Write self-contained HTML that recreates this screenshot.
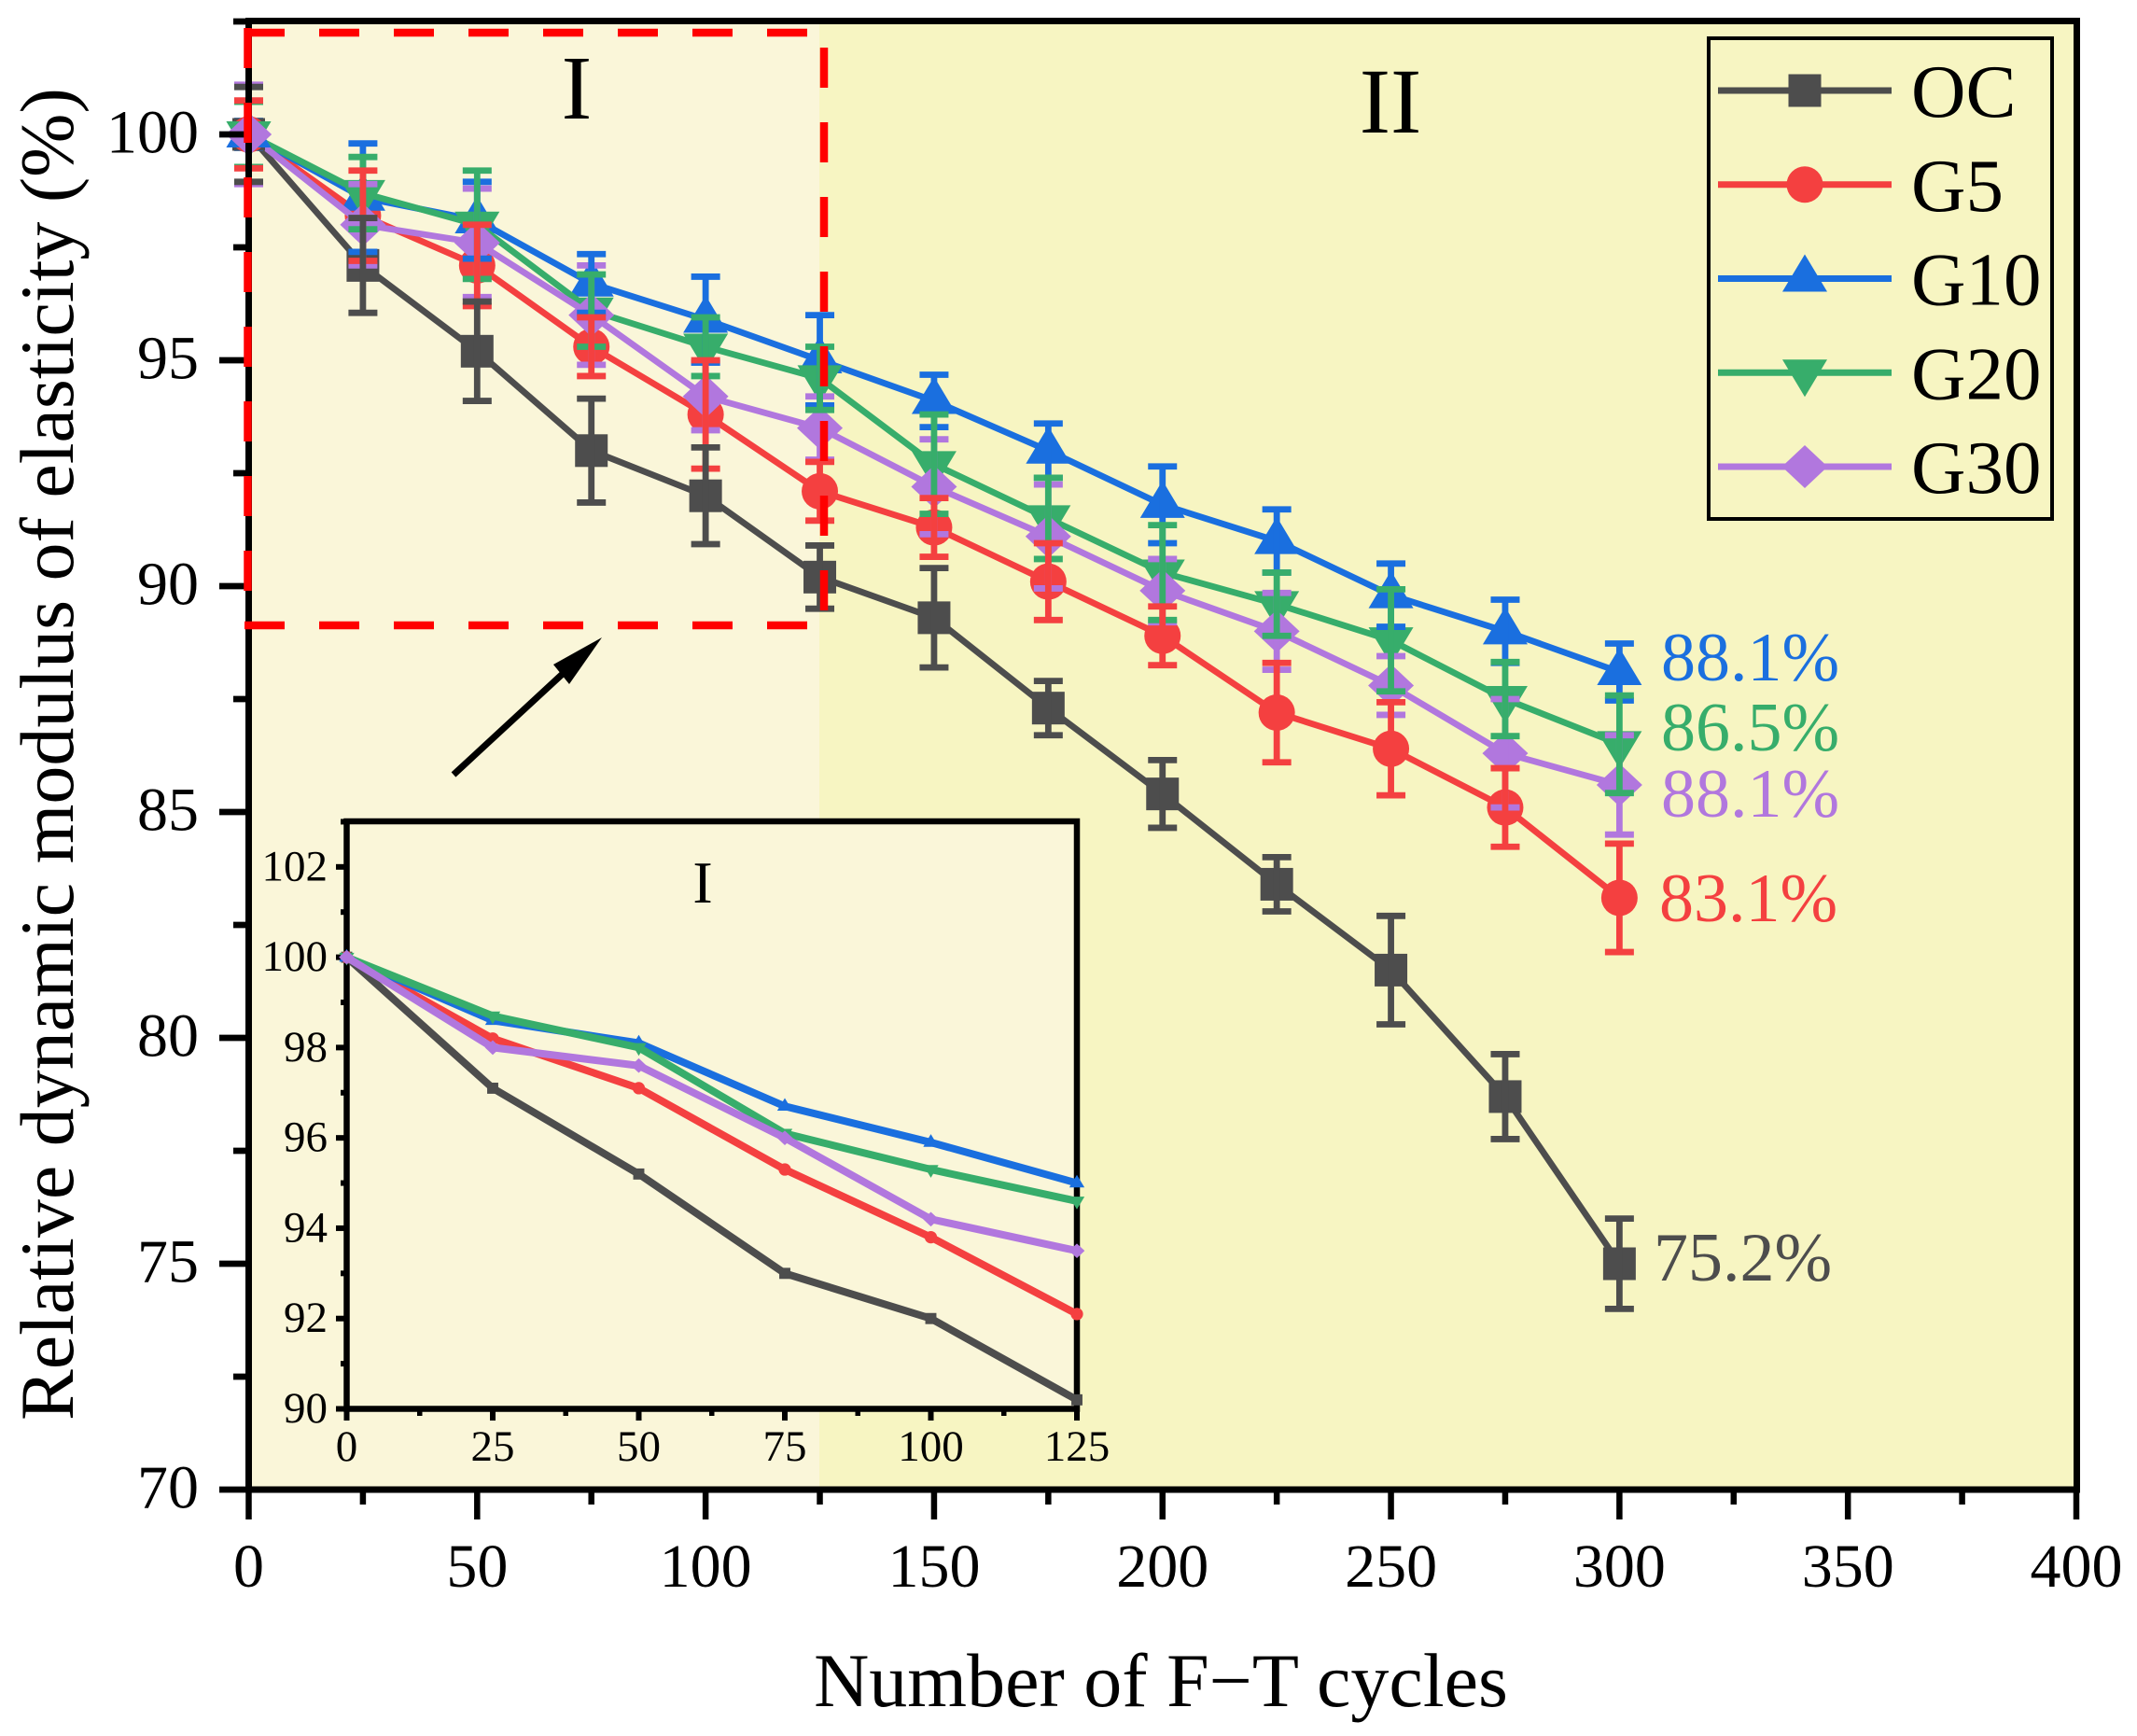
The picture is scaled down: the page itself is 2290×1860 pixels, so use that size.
<!DOCTYPE html>
<html lang="en">
<head>
<meta charset="utf-8">
<title>Relative dynamic modulus of elasticity vs F-T cycles</title>
<style>
html,body{margin:0;padding:0;background:#fff;}
svg{display:block;}
text{font-family:"Liberation Serif","Times New Roman",serif;fill:#000;}
</style>
</head>
<body>
<svg id="chart" xmlns="http://www.w3.org/2000/svg" width="2290" height="1860" viewBox="0 0 2290 1860">
  <rect x="0" y="0" width="2290" height="1860" fill="#ffffff"/>
  <rect x="266" y="22" width="612" height="1574" fill="#FAF6D9"/>
  <rect x="878" y="22" width="1347" height="1574" fill="#F7F5C2"/>
  <g id="series-layer"></g>
  <g id="error-layer"></g>
  <g id="top-marker-layer"></g>
  <g id="axis-layer"></g>
  <g stroke="#FF0000" stroke-width="8.5" stroke-dasharray="43 37" fill="none">
    <line x1="262" y1="35" x2="865" y2="35"/>
    <line x1="883" y1="51" x2="883" y2="654"/>
    <line x1="262" y1="670" x2="865" y2="670"/>
    <line x1="265.5" y1="30" x2="265.5" y2="633"/>
  </g>
  <g>
    <line x1="486" y1="830" x2="605" y2="720" stroke="#000" stroke-width="7"/>
    <polygon points="645,683 593,712 610,733" fill="#000"/>
  </g>
  <text x="618" y="127" font-size="98" text-anchor="middle">I</text>
  <text x="1490" y="142" font-size="100" text-anchor="middle">II</text>
  <text x="1244" y="1828" font-size="82" text-anchor="middle">Number of F−T cycles</text>
  <text transform="translate(78,1522) rotate(-90)" font-size="82">Relative dynamic modulus of elasticity (%)</text>
  <text x="1780" y="729" font-size="74" style="fill:#1A6FDF">88.1%</text>
  <text x="1780" y="804" font-size="74" style="fill:#37AD6B">86.5%</text>
  <text x="1780" y="875" font-size="74" style="fill:#B177DE">88.1%</text>
  <text x="1778" y="987" font-size="74" style="fill:#F44040">83.1%</text>
  <text x="1772" y="1372" font-size="74" style="fill:#4D4D4D">75.2%</text>
  <g id="legend">
    <rect x="1831" y="41" width="368" height="515" fill="none" stroke="#000" stroke-width="4"/>
  </g>
  <g id="inset">
    <rect x="371" y="880" width="783" height="629" fill="#FAF6D9"/>
    <text x="753" y="967" font-size="64" text-anchor="middle">I</text>
    <g id="inset-axis-layer"></g>
    <g id="inset-series-layer"></g>
  </g>
</svg>
<script>
const cycles = [0, 25, 50, 75, 100, 125, 150, 175, 200, 225, 250, 275, 300];
const ocValues = [100, 97.1, 95.2, 93.0, 92.0, 90.2, 89.3, 87.3, 85.4, 83.4, 81.5, 78.7, 75.0];
const g5Values = [100, 98.2, 97.1, 95.3, 93.8, 92.1, 91.3, 90.1, 88.9, 87.2, 86.4, 85.1, 83.1];
const g10Values = [100, 98.6, 98.1, 96.7, 95.9, 95.0, 94.1, 93.0, 91.8, 91.0, 89.8, 89.0, 88.1];
const g20Values = [100, 98.7, 98.0, 96.1, 95.3, 94.6, 92.7, 91.5, 90.3, 89.6, 88.8, 87.5, 86.5];
const g30Values = [100, 98.0, 97.6, 96.0, 94.2, 93.5, 92.2, 91.1, 89.9, 89.0, 87.8, 86.3, 85.6];
const ocErrors = [1.05, 1.05, 1.1, 1.15, 1.07, 0.7, 1.1, 0.6, 0.75, 0.6, 1.2, 0.94, 1.0];
const g5Errors = [0.75, 1.0, 0.9, 0.65, 1.2, 0.65, 0.65, 0.85, 0.65, 1.1, 1.03, 0.87, 1.2];
const g10Errors = [0.3, 1.2, 0.85, 0.65, 0.95, 1.0, 0.58, 0.6, 0.85, 0.7, 0.7, 0.7, 0.63];
const g20Errors = [0.72, 0.8, 1.2, 0.8, 0.65, 0.7, 1.1, 0.9, 1.05, 0.7, 1.13, 0.82, 1.08];
const g30Errors = [1.1, 0.9, 1.2, 1.1, 0.75, 0.7, 1.05, 1.15, 0.7, 0.85, 0.65, 1.2, 1.1];
const xTickLabels = [0, 50, 100, 150, 200, 250, 300, 350, 400];
const yTickLabels = [70, 75, 80, 85, 90, 95, 100];
const xMinorTicks = [25, 75, 125, 175, 225, 275, 325, 375];
const yMinorTicks = [72.5, 77.5, 82.5, 87.5, 92.5, 97.5, 102.5];
const insetXTickLabels = [0, 25, 50, 75, 100, 125];
const insetYTickLabels = [90, 92, 94, 96, 98, 100, 102];
const insetXMinorTicks = [12.5, 37.5, 62.5, 87.5, 112.5];
const insetYMinorTicks = [91, 93, 95, 97, 99, 101, 103];
const insetCycleCount = 6;

const NS = 'http://www.w3.org/2000/svg';
const xMain = v => 266.5 + (v - 0) * (2225 - 266.5) / 400;
const yMain = v => 1596 - (v - 70) * (1596 - 144) / 30;
const xInset = v => 371.5 + (v - 0) * (1154 - 371.5) / 125;
const yInset = v => 1509.5 - (v - 90) * (1509.5 - 1025.6) / 10;

const seriesList = [
  {name: 'oc', label: 'OC', color: '#4D4D4D', shape: 'square', values: ocValues, errors: ocErrors},
  {name: 'g5', label: 'G5', color: '#F44040', shape: 'circle', values: g5Values, errors: g5Errors},
  {name: 'g10', label: 'G10', color: '#1A6FDF', shape: 'up', values: g10Values, errors: g10Errors},
  {name: 'g20', label: 'G20', color: '#37AD6B', shape: 'down', values: g20Values, errors: g20Errors},
  {name: 'g30', label: 'G30', color: '#B177DE', shape: 'diamond', values: g30Values, errors: g30Errors}
];
const errorOrder = [4, 2, 3, 1, 0];

function node(tag, attrs, parent) {
  const el = document.createElementNS(NS, tag);
  Object.keys(attrs).forEach(k => el.setAttribute(k, attrs[k]));
  parent.appendChild(el);
  return el;
}

function drawMarker(shape, cx, cy, k, color, parent, name) {
  let el;
  if (shape === 'square') {
    el = node('rect', {x: cx - 17.5 * k, y: cy - 17.5 * k, width: 35 * k, height: 35 * k, fill: color}, parent);
  } else if (shape === 'circle') {
    el = node('ellipse', {cx: cx, cy: cy, rx: 19.5 * k, ry: 19.5 * k, fill: color}, parent);
  } else if (shape === 'up') {
    el = node('polygon', {points: `${cx},${cy - 26 * k} ${cx + 24 * k},${cy + 14 * k} ${cx - 24 * k},${cy + 14 * k}`, fill: color}, parent);
  } else if (shape === 'down') {
    el = node('polygon', {points: `${cx},${cy + 26 * k} ${cx + 24 * k},${cy - 14 * k} ${cx - 24 * k},${cy - 14 * k}`, fill: color}, parent);
  } else {
    el = node('polygon', {points: `${cx},${cy - 23 * k} ${cx + 24.5 * k},${cy} ${cx},${cy + 23 * k} ${cx - 24.5 * k},${cy}`, fill: color}, parent);
  }
  
  
  return el;
}

function linePoints(values, xf, yf, count) {
  return values.slice(0, count).map((v, i) => `${xf(cycles[i])},${yf(v)}`).join(' ');
}

function tickLine(x1, y1, x2, y2, w, parent, name) {
  const el = node('line', {x1: x1, y1: y1, x2: x2, y2: y2, stroke: '#000', 'stroke-width': w}, parent);
  
  
  return el;
}

function tickText(str, x, y, size, anchor, parent, name) {
  const el = node('text', {x: x, y: y, 'font-size': size, 'text-anchor': anchor}, parent);
  el.textContent = str;
  
  
  return el;
}

/* main series */
const seriesLayer = document.getElementById('series-layer');
const errorLayer = document.getElementById('error-layer');
const topMarkerLayer = document.getElementById('top-marker-layer');
seriesList.forEach(s => {
  const group = node('g', {}, seriesLayer);
  
  
  const line = node('polyline', {points: linePoints(s.values, xMain, yMain, cycles.length), fill: 'none', stroke: s.color, 'stroke-width': 6.8, 'stroke-linejoin': 'miter'}, group);
  
  
  s.values.forEach((v, i) => {
    drawMarker(s.shape, xMain(cycles[i]), yMain(v), 1, s.color, group, `point-${s.name}-${cycles[i]}`);
  });
});
errorOrder.forEach(idx => {
  const s = seriesList[idx];
  s.values.forEach((v, i) => {
    const cx = xMain(cycles[i]);
    const top = yMain(v + s.errors[i]);
    const bottom = yMain(v - s.errors[i]);
    const bar = node('path', {d: `M${cx - 15.5},${top}H${cx + 15.5}M${cx},${top}V${bottom}M${cx - 15.5},${bottom}H${cx + 15.5}`, fill: 'none', stroke: s.color, 'stroke-width': 6.8}, errorLayer);
    
    
  });
});
seriesList.forEach(s => {
  drawMarker(s.shape, xMain(cycles[0]), yMain(s.values[0]), 1, s.color, topMarkerLayer, `start-point-${s.name}`);
});

/* main axes */
const axisLayer = document.getElementById('axis-layer');
xMinorTicks.forEach(v => {
  tickLine(xMain(v), 1596, xMain(v), 1612, 6.5, axisLayer, `x-minor-tick-${v}`);
});
xTickLabels.forEach(v => {
  tickLine(xMain(v), 1596, xMain(v), 1628, 6.5, axisLayer, `x-major-tick-${v}`);
  tickText(String(v), xMain(v), 1700, 66, 'middle', axisLayer, `x-tick-label-${v}`);
});
yMinorTicks.forEach(v => {
  tickLine(250, yMain(v), 267, yMain(v), 6.7, axisLayer, `y-minor-tick-${v}`);
});
yTickLabels.forEach(v => {
  tickLine(235, yMain(v), 267, yMain(v), 6.7, axisLayer, `y-major-tick-${v}`);
  tickText(String(v), 213, yMain(v) + 19.5, 66, 'end', axisLayer, `y-tick-label-${v}`);
});
const frame = node('rect', {x: 266.5, y: 22.5, width: 1959, height: 1573.5, fill: 'none', stroke: '#000', 'stroke-width': 7}, axisLayer);



/* legend */
const legend = document.getElementById('legend');
const legendRowHeight = 100.75;
seriesList.forEach((s, i) => {
  const cy = 97 + i * legendRowHeight;
  const row = node('g', {}, legend);
  
  
  const l = node('line', {x1: 1841, y1: cy, x2: 2027, y2: cy, stroke: s.color, 'stroke-width': 7}, row);
  
  
  drawMarker(s.shape, 1934, cy, 1, s.color, row, `legend-marker-${s.name}`);
  tickText(s.label, 2048, cy + 28, 81, 'start', row, `legend-label-${s.name}`);
});

/* inset */
const insetAxis = document.getElementById('inset-axis-layer');
insetXMinorTicks.forEach(v => {
  tickLine(xInset(v), 1509, xInset(v), 1517, 5.5, insetAxis, `inset-x-minor-tick-${v}`);
});
insetXTickLabels.forEach(v => {
  tickLine(xInset(v), 1509, xInset(v), 1522, 6, insetAxis, `inset-x-major-tick-${v}`);
  tickText(String(v), xInset(v), 1565, 47, 'middle', insetAxis, `inset-x-tick-label-${v}`);
});
insetYMinorTicks.forEach(v => {
  tickLine(365, yInset(v), 372, yInset(v), 6, insetAxis, `inset-y-minor-tick-${v}`);
});
insetYTickLabels.forEach(v => {
  tickLine(360, yInset(v), 372, yInset(v), 6, insetAxis, `inset-y-major-tick-${v}`);
  tickText(String(v), 351, yInset(v) + 14.5, 47, 'end', insetAxis, `inset-y-tick-label-${v}`);
});
const insetFrame = node('rect', {x: 371.5, y: 880, width: 782.5, height: 629.5, fill: 'none', stroke: '#000', 'stroke-width': 6.5}, insetAxis);



const insetLayer = document.getElementById('inset-series-layer');
seriesList.forEach(s => {
  const group = node('g', {}, insetLayer);
  
  
  const line = node('polyline', {points: linePoints(s.values, xInset, yInset, insetCycleCount), fill: 'none', stroke: s.color, 'stroke-width': 8}, group);
  
  
  s.values.slice(0, insetCycleCount).forEach((v, i) => {
    drawMarker(s.shape, xInset(cycles[i]), yInset(v), 0.34, s.color, group, `inset-point-${s.name}-${cycles[i]}`);
  });
});
</script>
</body>
</html>
